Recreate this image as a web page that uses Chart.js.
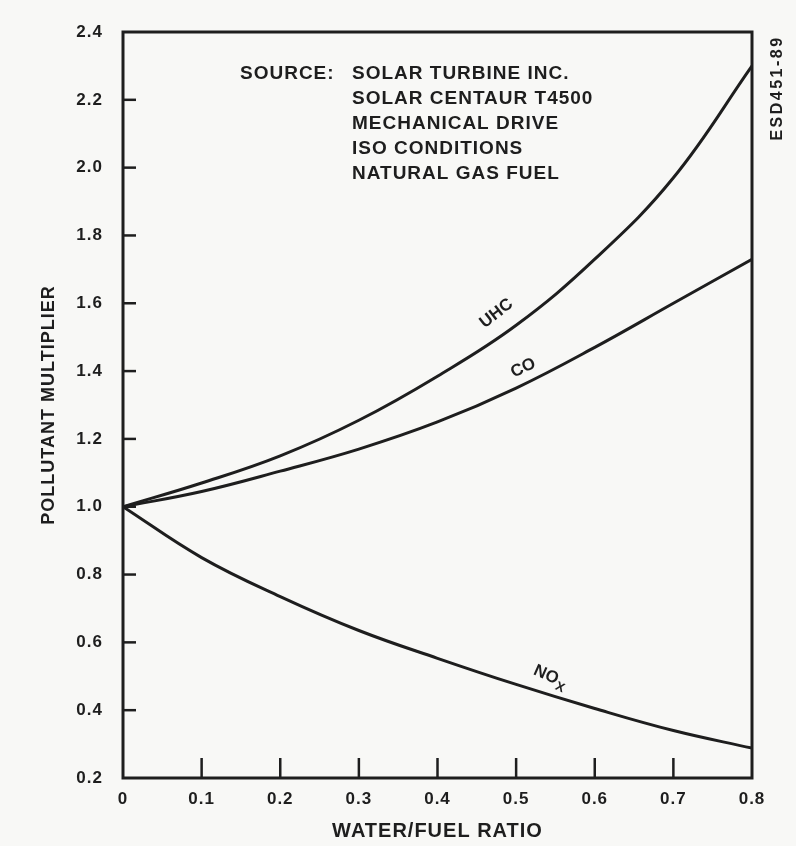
<!DOCTYPE html>
<html>
<head>
<meta charset="utf-8">
<script src="https://cdn.jsdelivr.net/npm/chart.js@4/dist/chart.umd.min.js"></script>
<style>
  html, body { margin: 0; padding: 0; background: #f8f8f6; }
  #wrap { width: 796px; height: 846px; }
</style>
</head>
<body>
<div id="wrap"><canvas id="chart" width="796" height="846"></canvas></div>
<script>
// water/fuel ratio
const waterFuel = [0, 0.1, 0.2, 0.3, 0.4, 0.5, 0.6, 0.7, 0.8];

// pollutant multipliers
const uhcValues = [1.00, 1.07, 1.15, 1.255, 1.385, 1.535, 1.73, 1.97, 2.30];
const coValues  = [1.00, 1.045, 1.105, 1.17, 1.25, 1.35, 1.47, 1.60, 1.73];
const noxValues = [1.00, 0.85, 0.735, 0.635, 0.553, 0.476, 0.405, 0.34, 0.288];

// axis ticks
const xTicks = [0, 0.1, 0.2, 0.3, 0.4, 0.5, 0.6, 0.7, 0.8];
const xTickLabels = ['0', '0.1', '0.2', '0.3', '0.4', '0.5', '0.6', '0.7', '0.8'];
const yTicks = [0.2, 0.4, 0.6, 0.8, 1.0, 1.2, 1.4, 1.6, 1.8, 2.0, 2.2, 2.4];
const yTickLabels = ['0.2', '0.4', '0.6', '0.8', '1.0', '1.2', '1.4', '1.6', '1.8', '2.0', '2.2', '2.4'];

const sourceLines = ['SOLAR TURBINE INC.', 'SOLAR CENTAUR T4500', 'MECHANICAL DRIVE', 'ISO CONDITIONS', 'NATURAL GAS FUEL'];

const INK = '#1e1e1e';
const FONT = '"Liberation Sans", Arial, sans-serif';

function toPoints(values) {
    return waterFuel.map((x, i) => ({ x: x, y: values[i] }));
}

function lineSet(label, values) {
    return {
        label: label,
        data: toPoints(values),
        borderColor: INK,
        borderWidth: 3,
        pointRadius: 0,
        fill: false,
        tension: 0.4
    };
}

// wide lettering like the stencilled original
const spacingPlugin = {
    id: 'spacing',
    beforeDraw(chart) {
        chart.ctx.letterSpacing = '1px';
    }
};

// frame, inward ticks and annotations
const paperPlugin = {
    id: 'paper',
    afterDatasetsDraw(chart) {
        const ctx = chart.ctx;
        const area = chart.chartArea;
        const xs = chart.scales.x;
        const ys = chart.scales.y;

        ctx.save();
        ctx.strokeStyle = INK;
        ctx.lineWidth = 3;
        ctx.strokeRect(area.left, area.top, area.right - area.left, area.bottom - area.top);

        // inward tick marks
        ctx.lineWidth = 2.5;
        yTicks.forEach(v => {
            if (v === 0.2 || v === 2.4) return;
            const py = ys.getPixelForValue(v);
            ctx.beginPath();
            ctx.moveTo(area.left, py);
            ctx.lineTo(area.left + 13, py);
            ctx.stroke();
        });
        xTicks.forEach(v => {
            if (v === 0 || v === 0.8) return;
            const px = xs.getPixelForValue(v);
            ctx.beginPath();
            ctx.moveTo(px, area.bottom);
            ctx.lineTo(px, area.bottom - 20);
            ctx.stroke();
        });

        ctx.fillStyle = INK;
        ctx.textBaseline = 'middle';

        // source block
        ctx.letterSpacing = '1px';
        ctx.font = 'bold 19px ' + FONT;
        ctx.textAlign = 'left';
        ctx.fillText('SOURCE:', 240, 74);
        sourceLines.forEach((t, i) => {
            ctx.fillText(t, 352, 74 + i * 25);
        });

        // curve labels
        function curveLabel(text, x, y, angle) {
            ctx.save();
            ctx.translate(xs.getPixelForValue(x), ys.getPixelForValue(y));
            ctx.rotate(angle * Math.PI / 180);
            ctx.textAlign = 'center';
            ctx.fillText(text, 0, 0);
            ctx.restore();
        }
        ctx.letterSpacing = '0px';
        ctx.font = 'bold 17px ' + FONT;
        curveLabel('UHC', 0.475, 1.57, -38);
        curveLabel('CO', 0.509, 1.409, -25);

        ctx.save();
        ctx.translate(xs.getPixelForValue(0.542), ys.getPixelForValue(0.50));
        ctx.rotate(24 * Math.PI / 180);
        ctx.textAlign = 'left';
        ctx.fillText('NO', -16, 0);
        ctx.font = 'bold 13px ' + FONT;
        ctx.fillText('X', 10, 6);
        ctx.restore();

        // figure code on the right margin
        ctx.save();
        ctx.letterSpacing = '2.5px';
        ctx.font = 'bold 16px ' + FONT;
        ctx.translate(778, 88);
        ctx.rotate(-Math.PI / 2);
        ctx.textAlign = 'center';
        ctx.fillText('ESD451-89', 0, 0);
        ctx.restore();

        ctx.restore();
    }
};

new Chart(document.getElementById('chart'), {
    type: 'line',
    data: {
        datasets: [
            lineSet('UHC', uhcValues),
            lineSet('CO', coValues),
            lineSet('NOx', noxValues)
        ]
    },
    options: {
        responsive: false,
        animation: false,
        events: [],
        layout: { padding: { left: 0, top: 32, right: 44, bottom: 0 } },
        plugins: {
            legend: { display: false },
            tooltip: { enabled: false }
        },
        scales: {
            x: {
                type: 'linear',
                min: 0,
                max: 0.8,
                afterBuildTicks: s => { s.ticks = xTicks.map(v => ({ value: v })); },
                afterFit: s => { s.height = 68; },
                grid: { display: false, drawTicks: false },
                border: { display: false },
                ticks: {
                    padding: 11,
                    color: INK,
                    font: { family: FONT, size: 17, weight: 'bold' },
                    callback: (v, i) => xTickLabels[i]
                },
                title: {
                    display: true,
                    text: 'WATER/FUEL RATIO',
                    color: INK,
                    font: { family: FONT, size: 20, weight: 'bold' },
                    padding: { top: 0, bottom: 3 }
                }
            },
            y: {
                type: 'linear',
                min: 0.2,
                max: 2.4,
                afterBuildTicks: s => { s.ticks = yTicks.map(v => ({ value: v })); },
                afterFit: s => { s.width = 123; },
                grid: { display: false, drawTicks: false },
                border: { display: false },
                ticks: {
                    padding: 20,
                    color: INK,
                    font: { family: FONT, size: 17, weight: 'bold' },
                    callback: (v, i) => yTickLabels[i]
                },
                title: {
                    display: true,
                    text: 'POLLUTANT MULTIPLIER',
                    color: INK,
                    font: { family: FONT, size: 18, weight: 'bold' },
                    padding: { top: 38, bottom: 0 }
                }
            }
        }
    },
    plugins: [spacingPlugin, paperPlugin]
});
</script>
</body>
</html>
